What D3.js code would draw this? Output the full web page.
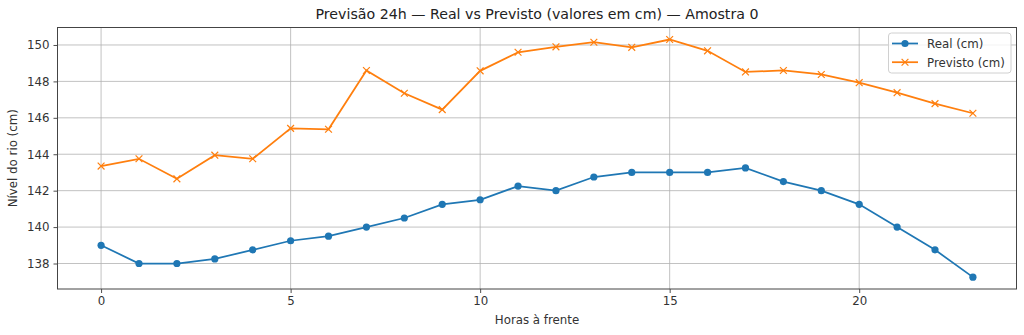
<!DOCTYPE html>
<html>
<head>
<meta charset="utf-8">
<script src="https://cdn.jsdelivr.net/npm/d3@7"></script>
<style>
  html, body { margin: 0; padding: 0; background: #fff; }
  svg { display: block; font-family: "DejaVu Sans", sans-serif; }
</style>
</head>
<body>
<svg id="chart" width="1024" height="335"></svg>
<script>
// Hours ahead (0..23)
const hours = [0,1,2,3,4,5,6,7,8,9,10,11,12,13,14,15,16,17,18,19,20,21,22,23];
// Observed river level (cm)
const realValues = [139.0,138.0,138.0,138.25,138.75,139.25,139.5,140.0,140.5,141.25,141.5,142.25,
                    142.0,142.75,143.0,143.0,143.0,143.25,142.5,142.0,141.25,140.0,138.75,137.25];
// Forecast river level (cm)
const forecastValues = [143.35,143.75,142.65,143.95,143.75,145.42,145.37,148.6,147.35,146.45,148.58,149.6,
                        149.9,150.15,149.87,150.3,149.68,148.52,148.6,148.38,147.93,147.38,146.78,146.25];
const xTicks = [0,5,10,15,20];
const yTicks = [138,140,142,144,146,148,150];
const seriesNames = ["Real (cm)", "Previsto (cm)"];

const svg = d3.select("#chart");
const plotLeft = 57.5, plotRight = 1016.5, plotTop = 27.5, plotBottom = 289;
const fontSize = 11.8;

const x = d3.scaleLinear().domain([-1.15, 24.15]).range([plotLeft, plotRight]);
const y = d3.scaleLinear().domain([136.6, 150.96]).range([plotBottom, plotTop]);

const gridColor = "#b0b0b0";
const textColor = "#333";

// grid
const grid = svg.append("g");
grid.selectAll("line.gx").data(xTicks).join("line")
  .attr("x1", d => x(d)).attr("x2", d => x(d))
  .attr("y1", plotTop).attr("y2", plotBottom)
  .attr("stroke", gridColor).attr("stroke-width", 0.95).attr("opacity", 0.8);
grid.selectAll("line.gy").data(yTicks).join("line")
  .attr("y1", d => y(d)).attr("y2", d => y(d))
  .attr("x1", plotLeft).attr("x2", plotRight)
  .attr("stroke", gridColor).attr("stroke-width", 0.95).attr("opacity", 0.8);

// axes
const xAxis = d3.axisBottom(x).tickValues(xTicks).tickSize(4).tickPadding(4).tickFormat(d3.format("d"));
const yAxis = d3.axisLeft(y).tickValues(yTicks).tickSize(4).tickPadding(4).tickFormat(d3.format("d"));
const gx = svg.append("g").attr("transform", `translate(0,${plotBottom})`).call(xAxis);
const gy = svg.append("g").attr("transform", `translate(${plotLeft},0)`).call(yAxis);
[gx, gy].forEach(g => {
  g.select(".domain").remove();
  g.selectAll(".tick line").attr("stroke", "#444").attr("stroke-width", 0.95);
  g.selectAll(".tick text").attr("fill", textColor).attr("font-size", fontSize)
    .attr("font-family", "DejaVu Sans, sans-serif");
});

// frame
svg.append("rect").attr("x", plotLeft).attr("y", plotTop)
  .attr("width", plotRight - plotLeft).attr("height", plotBottom - plotTop)
  .attr("fill", "none").attr("stroke", "#444").attr("stroke-width", 1);

const line = d3.line().x((d, i) => x(hours[i])).y(d => y(d));

// forecast series
svg.append("path").datum(forecastValues)
  .attr("d", line).attr("fill", "none")
  .attr("stroke", "#ff7f0e").attr("stroke-width", 1.75);
const crossSize = 3.4;
svg.append("g").selectAll("path").data(forecastValues).join("path")
  .attr("d", (d, i) => {
    const cx = x(hours[i]), cy = y(d), s = crossSize;
    return `M${cx - s},${cy - s}L${cx + s},${cy + s}M${cx - s},${cy + s}L${cx + s},${cy - s}`;
  })
  .attr("stroke", "#ff7f0e").attr("stroke-width", 1.2).attr("fill", "none");

// observed series
svg.append("path").datum(realValues)
  .attr("d", line).attr("fill", "none")
  .attr("stroke", "#1f77b4").attr("stroke-width", 1.75);
svg.append("g").selectAll("circle").data(realValues).join("circle")
  .attr("cx", (d, i) => x(hours[i])).attr("cy", d => y(d)).attr("r", 3.6)
  .attr("fill", "#1f77b4");

// title and axis labels
svg.append("text").attr("x", (plotLeft + plotRight) / 2).attr("y", 19)
  .attr("text-anchor", "middle").attr("font-size", 14.2).attr("fill", "#222")
  .text("Previsão 24h — Real vs Previsto (valores em cm) — Amostra 0");
svg.append("text").attr("x", (plotLeft + plotRight) / 2).attr("y", 323.5)
  .attr("text-anchor", "middle").attr("font-size", fontSize).attr("fill", textColor)
  .text("Horas à frente");
svg.append("text")
  .attr("transform", `translate(16.5,${(plotTop + plotBottom) / 2}) rotate(-90)`)
  .attr("text-anchor", "middle").attr("font-size", fontSize).attr("fill", textColor)
  .text("Nível do rio (cm)");

// legend
const lg = svg.append("g").attr("transform", "translate(888.5,33)");
lg.append("rect").attr("width", 122.5).attr("height", 40).attr("rx", 3)
  .attr("fill", "#fff").attr("fill-opacity", 0.8).attr("stroke", "#d0d0d0").attr("stroke-width", 1);
const colors = ["#1f77b4", "#ff7f0e"];
seriesNames.forEach((name, i) => {
  const ly = 10.5 + i * 18.7;
  lg.append("line").attr("x1", 3.5).attr("x2", 29.5).attr("y1", ly).attr("y2", ly)
    .attr("stroke", colors[i]).attr("stroke-width", 1.75);
  if (i === 0) {
    lg.append("circle").attr("cx", 16.5).attr("cy", ly).attr("r", 3.6).attr("fill", colors[i]);
  } else {
    const s = crossSize;
    lg.append("path").attr("d", `M${16.5 - s},${ly - s}L${16.5 + s},${ly + s}M${16.5 - s},${ly + s}L${16.5 + s},${ly - s}`)
      .attr("stroke", colors[i]).attr("stroke-width", 1.2);
  }
  lg.append("text").attr("x", 38.5).attr("y", ly + 4.3).attr("font-size", fontSize).attr("fill", textColor).text(name);
});
</script>
</body>
</html>
